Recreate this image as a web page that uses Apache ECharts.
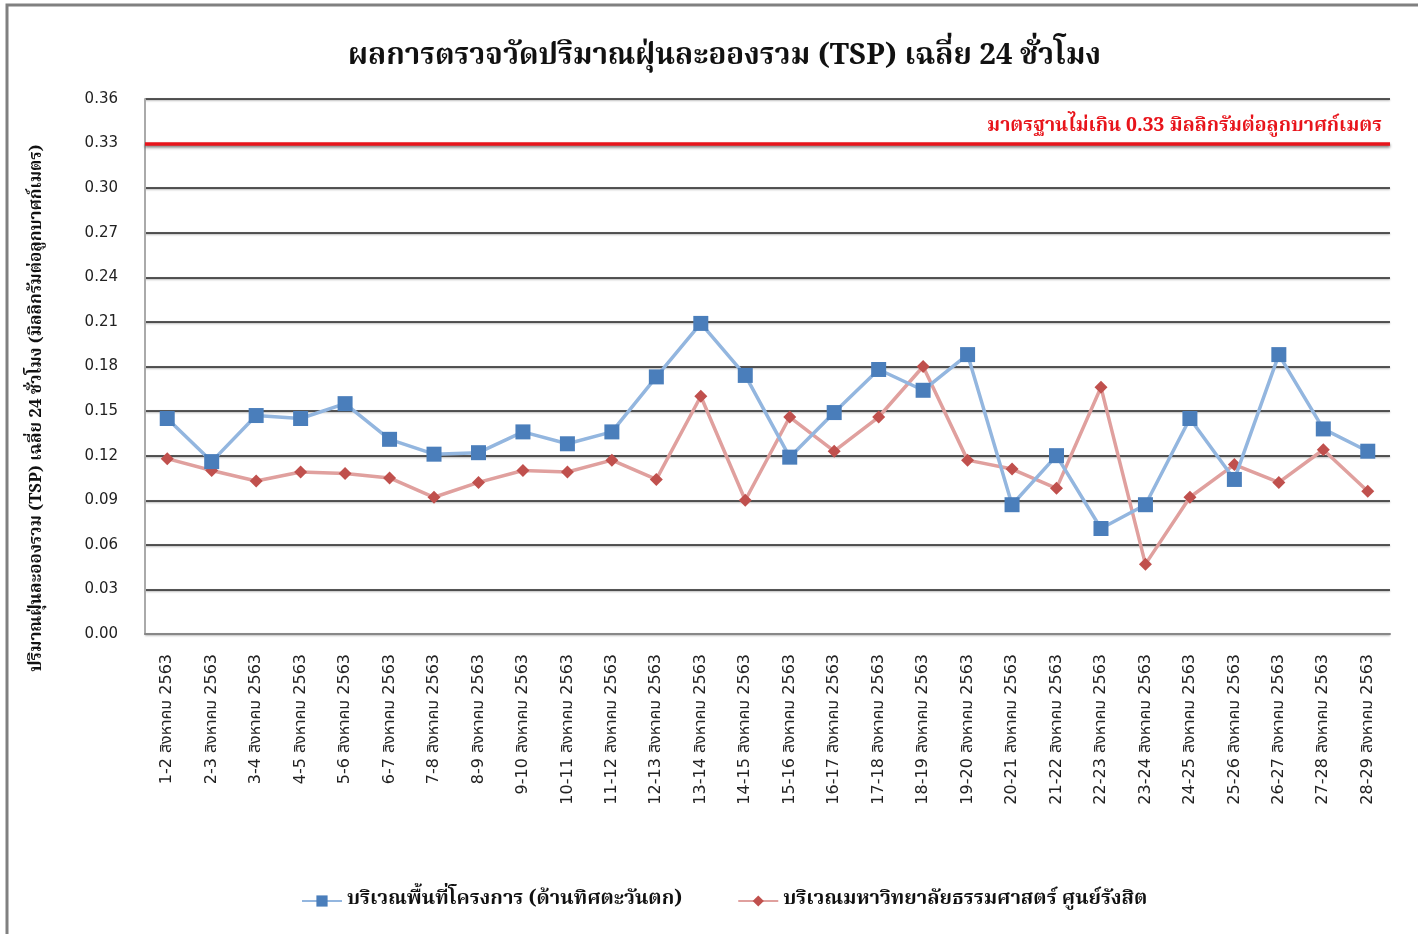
<!DOCTYPE html>
<html>
<head>
<meta charset="utf-8">
<script src="https://cdn.jsdelivr.net/npm/echarts@6/dist/echarts.min.js"></script>
<style>
  html, body { margin: 0; padding: 0; background: #fff; }
  #chart { width: 1418px; height: 934px; }
</style>
</head>
<body>
<div id="chart"></div>
<script>
// ข้อมูลวันที่ (แกน x)
var days = ['1-2', '2-3', '3-4', '4-5', '5-6', '6-7', '7-8', '8-9', '9-10', '10-11', '11-12', '12-13', '13-14', '14-15',
  '15-16', '16-17', '17-18', '18-19', '19-20', '20-21', '21-22', '22-23', '23-24', '24-25', '25-26', '26-27', '27-28', '28-29'];
var categories = days.map(function (d) { return d + ' สิงหาคม 2563'; });

// บริเวณพื้นที่โครงการ (ด้านทิศตะวันตก)
var projectSite = [0.145, 0.116, 0.147, 0.145, 0.155, 0.131, 0.121, 0.122, 0.136, 0.128, 0.136, 0.173, 0.209, 0.174,
  0.119, 0.149, 0.178, 0.164, 0.188, 0.087, 0.120, 0.071, 0.087, 0.145, 0.104, 0.188, 0.138, 0.123];
// บริเวณมหาวิทยาลัยธรรมศาสตร์ ศูนย์รังสิต
var university = [0.118, 0.110, 0.103, 0.109, 0.108, 0.105, 0.092, 0.102, 0.110, 0.109, 0.117, 0.104, 0.160, 0.090,
  0.146, 0.123, 0.146, 0.180, 0.117, 0.111, 0.098, 0.166, 0.047, 0.092, 0.114, 0.102, 0.124, 0.096];

var standard = 0.33;

var thaiSerif = "'Noto Serif Thai', 'Liberation Serif', 'DejaVu Serif', serif";
var thaiSans = "'DejaVu Sans', 'Noto Sans Thai', 'Noto Sans', sans-serif";

var myChart = echarts.init(document.getElementById('chart'));
var option = {
  backgroundColor: '#fff',
  animation: false,
  title: {
    text: 'ผลการตรวจวัดปริมาณฝุ่นละอองรวม (TSP) เฉลี่ย 24 ชั่วโมง',
    left: 343,
    top: 39,
    textStyle: { fontFamily: thaiSerif, fontSize: 29.5, fontWeight: 'bold', color: '#111' }
  },
  graphic: [
    {
      type: 'rect',
      shape: { x: 7, y: 5, width: 1430, height: 950 },
      style: { fill: 'none', stroke: '#808080', lineWidth: 3 },
      silent: true
    },
    {
      // ชื่อแกน y (อยู่ต่ำกว่ากึ่งกลางพื้นที่กราฟเล็กน้อย)
      type: 'text',
      x: 38,
      y: 408,
      rotation: Math.PI / 2,
      silent: true,
      style: {
        text: 'ปริมาณฝุ่นละอองรวม (TSP) เฉลี่ย 24 ชั่วโมง (มิลลิกรัมต่อลูกบาศก์เมตร)',
        font: 'bold 17px ' + thaiSerif,
        fill: '#111',
        textAlign: 'center',
        textVerticalAlign: 'middle'
      }
    }
  ],
  legend: {
    left: 296,
    top: 886,
    itemGap: 55,
    itemWidth: 40,
    itemHeight: 14,
    textStyle: { fontFamily: thaiSerif, fontSize: 20, fontWeight: 'bold', color: '#111' },
    data: ['บริเวณพื้นที่โครงการ (ด้านทิศตะวันตก)', 'บริเวณมหาวิทยาลัยธรรมศาสตร์ ศูนย์รังสิต']
  },
  grid: { left: 145, right: 28, top: 99, bottom: 300, containLabel: false },
  xAxis: {
    type: 'category',
    data: categories,
    boundaryGap: true,
    axisLine: { lineStyle: { color: '#888', width: 2 } },
    axisTick: { show: false },
    axisLabel: {
      interval: 0,
      rotate: 90,
      margin: 20,
      fontFamily: thaiSans,
      fontSize: 16,
      color: '#222'
    }
  },
  yAxis: {
    type: 'value',
    min: 0,
    max: 0.36,
    interval: 0.03,
    axisLine: { show: true, lineStyle: { color: '#aaa', width: 2 } },
    axisTick: { show: false },
    axisLabel: {
      margin: 27,
      fontFamily: thaiSans,
      fontSize: 15,
      color: '#222',
      formatter: function (v) { return v.toFixed(2); }
    },
    splitLine: {
      lineStyle: { color: '#222', width: 1.6, shadowColor: 'rgba(0,0,0,0.35)', shadowBlur: 2, shadowOffsetY: 1 }
    }
  },
  series: [
    {
      name: 'บริเวณพื้นที่โครงการ (ด้านทิศตะวันตก)',
      type: 'line',
      data: projectSite,
      symbol: 'rect',
      symbolSize: 15,
      itemStyle: { color: '#4a7ebb' },
      lineStyle: { color: '#93b6df', width: 3.5 },
      z: 3,
      markLine: {
        silent: true,
        symbol: 'none',
        data: [{ yAxis: standard }],
        lineStyle: {
          type: 'solid', color: '#e8141b', width: 3.5,
          shadowColor: 'rgba(0,0,0,0.45)', shadowBlur: 3, shadowOffsetY: 2
        },
        label: {
          position: 'insideEndTop',
          distance: [8, 6],
          formatter: 'มาตรฐานไม่เกิน 0.33 มิลลิกรัมต่อลูกบาศก์เมตร',
          fontFamily: thaiSerif,
          fontSize: 19.5,
          fontWeight: 'bold',
          color: '#e8141b'
        }
      }
    },
    {
      name: 'บริเวณมหาวิทยาลัยธรรมศาสตร์ ศูนย์รังสิต',
      type: 'line',
      data: university,
      symbol: 'diamond',
      symbolSize: 13,
      itemStyle: { color: '#c0504d' },
      lineStyle: { color: '#e0a09e', width: 3.5 },
      z: 2
    }
  ]
};
myChart.setOption(option);
</script>
</body>
</html>
